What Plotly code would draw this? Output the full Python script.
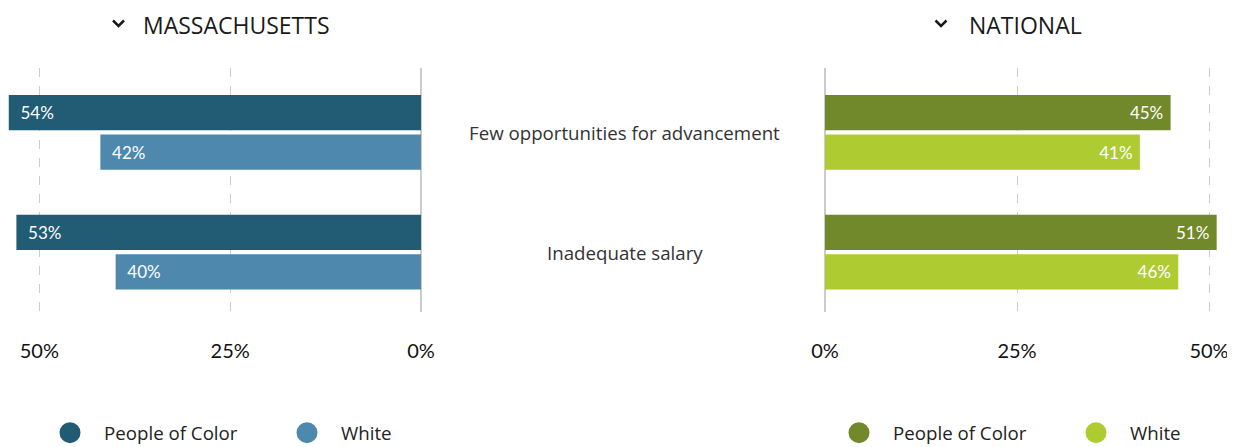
import plotly.graph_objects as go

categories = ["Few opportunities for advancement", "Inadequate salary"]
ma_poc = [54, 53]
ma_white = [42, 40]
nat_poc = [45, 51]
nat_white = [41, 46]
tick_vals = [0, 25, 50]
tick_text = ["0%", "25%", "50%"]
series_names = ["People of Color", "White"]
panel_titles = ["MASSACHUSETTS", "NATIONAL"]

C_MA_POC = "#215b74"
C_MA_W = "#4f88ad"
C_NAT_POC = "#72892b"
C_NAT_W = "#aecc31"

OFF = 8  # page body margin
W, H = 1235 - OFF, 447 - OFF
T = 68 - OFF
PH = 244
B = H - T - PH
PXPCT = 7.68
X0_L, X0_R = 421 - OFF, 825 - OFF

def px(rx):
    return (rx - OFF) / W

def py(ry):
    return (312 - ry) / PH

ypos = list(range(len(categories)))

fig = go.Figure()
num_font = dict(family="Lato", size=17, color="white")
NB = "\u00a0"

def add_bar(vals, color, xa, name, lead, trail):
    txt = [NB * lead + f"{v}%" + NB * trail for v in vals]
    fig.add_trace(go.Bar(
        x=vals, y=ypos, orientation="h", marker=dict(color=color, line=dict(width=0)), name=name,
        text=txt, textposition="inside", insidetextanchor="end", constraintext="none",
        textfont=num_font, showlegend=False, xaxis=xa, yaxis="y",
        hoverinfo="skip", cliponaxis=False,
    ))

add_bar(ma_poc, C_MA_POC, "x", series_names[0], 2, 0)
add_bar(ma_white, C_MA_W, "x", series_names[1], 2, 0)
add_bar(nat_poc, C_NAT_POC, "x2", series_names[0], 0, 1)
add_bar(nat_white, C_NAT_W, "x2", series_names[1], 0, 1)

for nm, col, lg in [(series_names[0], C_MA_POC, "legend"), (series_names[1], C_MA_W, "legend"),
                    (series_names[0], C_NAT_POC, "legend2"), (series_names[1], C_NAT_W, "legend2")]:
    fig.add_trace(go.Scatter(x=[None], y=[None], mode="markers", name=nm,
                             marker=dict(size=22, color=col, symbol="circle",
                                         line=dict(color=col, width=5)),
                             legend=lg, xaxis="x", yaxis="y"))

axis_common = dict(
    tickvals=tick_vals, ticktext=tick_text, showgrid=True, gridcolor="#cccccc",
    griddash="dash", gridwidth=1, zeroline=True, zerolinecolor="#cccccc", zerolinewidth=1.5,
    showline=False, ticks="", tickfont=dict(family="Lato", size=20, color="#111111"),
    ticklabelstandoff=25, fixedrange=True, automargin=False,
)

leg_common = dict(orientation="h", xanchor="left", y=py(433), yanchor="middle",
                  font=dict(family="Open Sans", size=18.7, color="#222222"),
                  itemclick=False, itemwidth=58, entrywidth=164, bgcolor="rgba(0,0,0,0)")

fig.update_layout(
    width=W, height=H, margin=dict(l=0, r=0, t=T, b=B, pad=0, autoexpand=False),
    plot_bgcolor="white", paper_bgcolor="white",
    barmode="group", bargap=0.34, bargroupgap=0.11,
    xaxis=dict(domain=[0, X0_L / W], range=[54.1, 0], **axis_common),
    xaxis2=dict(domain=[X0_R / W, 1], range=[0, (W - X0_R) / PXPCT], **axis_common),
    yaxis=dict(range=[1.5, -0.537], showgrid=False, zeroline=False, showticklabels=False,
               fixedrange=True, automargin=False),
    legend=dict(x=px(36), **leg_common),
    legend2=dict(x=px(825), **leg_common),
)

for i, c in enumerate(categories):
    fig.add_annotation(x=px(624.5), xref="paper", y=i, yref="y", text=c,
                       showarrow=False, font=dict(family="Open Sans", size=18.7, color="#333333"),
                       xanchor="center", yanchor="middle")

for title, tx, cx in [(panel_titles[0], 142, 118.5), (panel_titles[1], 968, 941)]:
    fig.add_annotation(x=px(tx), xref="paper", y=py(OFF), yref="paper", text=title, showarrow=False,
                       font=dict(family="Open Sans", size=23, color="#1a1a1a"),
                       xanchor="left", yanchor="top", borderpad=0)
    path = f"M {px(cx-5.5)},{py(20.5)} L {px(cx)},{py(26)} L {px(cx+5.5)},{py(20.5)}"
    fig.add_shape(type="path", path=path, xref="paper", yref="paper",
                  line=dict(color="#1a1a1a", width=2.5))

fig.write_html("out.html")
